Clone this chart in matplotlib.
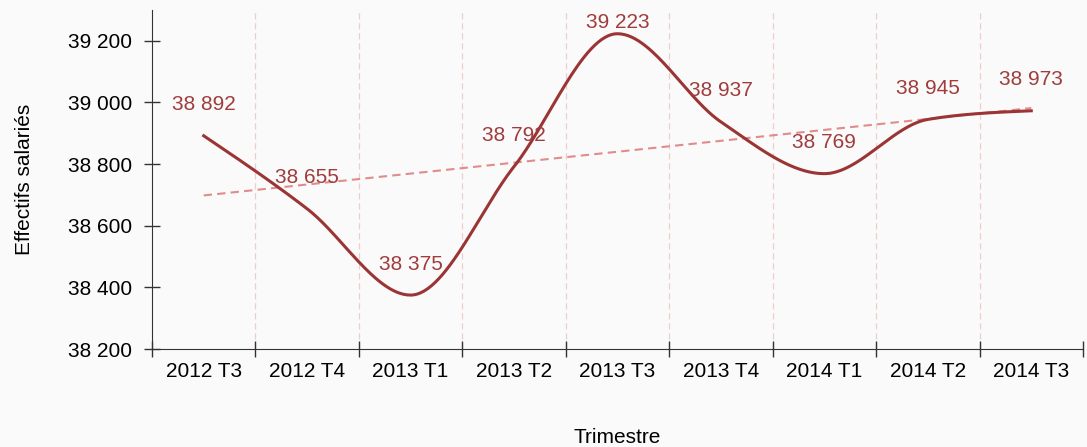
import numpy as np
import matplotlib
matplotlib.use("Agg")
import matplotlib.pyplot as plt

# Effectifs salariés par trimestre
trimestres = ['2012 T3', '2012 T4', '2013 T1', '2013 T2', '2013 T3',
              '2013 T4', '2014 T1', '2014 T2', '2014 T3']
effectifs = [38892, 38655, 38375, 38792, 39223, 38937, 38769, 38945, 38973]
y_ticks = [38200, 38400, 38600, 38800, 39000, 39200]


def monotone_curve(x, y, n=60):
    # courbe lissée monotone (type Steffen) pour le tracé
    x = np.asarray(x, float)
    y = np.asarray(y, float)
    h = np.diff(x)
    s = np.diff(y) / h
    k = len(x)
    t = np.zeros(k)
    for i in range(1, k - 1):
        p = (s[i - 1] * h[i] + s[i] * h[i - 1]) / (h[i - 1] + h[i])
        t[i] = (np.sign(s[i - 1]) + np.sign(s[i])) * min(abs(s[i - 1]), abs(s[i]), 0.5 * abs(p))
    t[0] = (3 * s[0] - t[1]) / 2
    t[-1] = (3 * s[-1] - t[-2]) / 2
    xs_all, ys_all = [], []
    for i in range(k - 1):
        u = np.linspace(0, 1, n)
        h00 = 2 * u ** 3 - 3 * u ** 2 + 1
        h10 = u ** 3 - 2 * u ** 2 + u
        h01 = -2 * u ** 3 + 3 * u ** 2
        h11 = u ** 3 - u ** 2
        xs_all.append(x[i] + u * h[i])
        ys_all.append(h00 * y[i] + h10 * h[i] * t[i] + h01 * y[i + 1] + h11 * h[i] * t[i + 1])
    return np.concatenate(xs_all), np.concatenate(ys_all)


plt.rcParams['font.family'] = ['Liberation Sans', 'DejaVu Sans']

x = np.arange(len(trimestres))
line_col = '#9b3535'

fig = plt.figure(figsize=(10.87, 4.47), dpi=100, facecolor='#fafafa')
ax = fig.add_axes([0.1398, 0.2192, 0.8565, 0.7584])
ax.set_facecolor('#fafafa')

ax.set_xlim(-0.5, len(trimestres) - 0.5)
ax.set_ylim(38200, 39300)

xs, ys = monotone_curve(x, effectifs)
ax.plot(xs, ys, color=line_col, lw=2.2, zorder=3)

# droite de tendance
a, b = np.polyfit(x, effectifs, 1)
ax.plot(x[[0, -1]], a * x[[0, -1]] + b, color='#e08c8c', lw=1.5,
        ls=(0, (4, 2.5)), zorder=2)

top_px = ax.transAxes.transform((0, 1))[1]
for xi, v in zip(x, effectifs):
    py = ax.transData.transform((xi, v))[1]
    off = min(31, top_px - 12 - py)
    ax.annotate(f"{v:,}".replace(',', ' '), (xi, v), xytext=(0, off),
                textcoords='offset pixels', ha='center', va='center',
                fontsize=15, color='#a03c3c', zorder=4)

ax.set_yticks(y_ticks)
ax.set_yticklabels([f"{t:,}".replace(',', ' ') for t in y_ticks])

ax.set_xticks(np.arange(-0.5, len(trimestres)))
ax.set_xticklabels([])
ax.set_xticks(x, minor=True)
ax.set_xticklabels(trimestres, minor=True)
ax.tick_params(axis='x', which='minor', length=0, pad=9, labelsize=15)
ax.tick_params(axis='both', which='major', direction='inout', length=11,
               width=1, labelsize=15, color='#333333')
ax.tick_params(axis='y', which='major', pad=9)

for xb in np.arange(0.5, len(trimestres) - 0.5):
    ax.axvline(xb, color='#f0cccc', lw=0.9, ls=(0, (5, 3)), zorder=1)

for s in ['top', 'right']:
    ax.spines[s].set_visible(False)
for s in ['left', 'bottom']:
    ax.spines[s].set_color('#333333')

ax.set_xlabel('Trimestre', fontsize=15, labelpad=34)
ax.set_ylabel('Effectifs salariés', fontsize=15, labelpad=24)

fig.savefig('out.png', dpi=100, facecolor=fig.get_facecolor())
